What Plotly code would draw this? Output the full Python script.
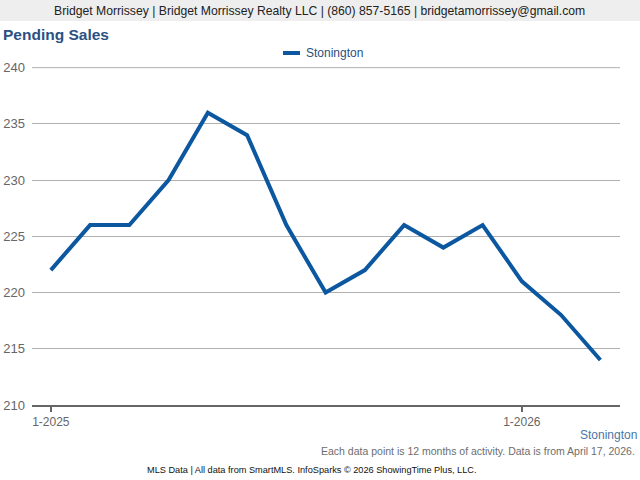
import plotly.graph_objects as go

months = ["1-2025", "2-2025", "3-2025", "4-2025", "5-2025", "6-2025", "7-2025",
          "8-2025", "9-2025", "10-2025", "11-2025", "12-2025", "1-2026", "2-2026", "3-2026"]
pending_sales = [222, 226, 226, 230, 236, 234, 226, 220, 222, 226, 224, 226, 221, 218, 214]
series_name = "Stonington"
tick_labels = ["1-2025", "1-2026"]
y_ticks = [210, 215, 220, 225, 230, 235, 240]

FONT = "Liberation Sans, Arial, sans-serif"
LINE_COLOR = "#0b57a0"

L, R, T, B = 32, 20, 67, 75
PW, PH = 640 - L - R, 480 - T - B


def px(x):
    return (x - L) / PW


def py(y):
    return 1 - (y - T) / PH


fig = go.Figure()
fig.add_trace(go.Scatter(
    x=months, y=pending_sales, mode="lines", name=series_name,
    line=dict(color=LINE_COLOR, width=4), showlegend=False,
))

fig.update_layout(
    width=640, height=480,
    margin=dict(l=L, r=R, t=T, b=B, autoexpand=False),
    paper_bgcolor="white", plot_bgcolor="white",
    font=dict(family=FONT, size=12, color="#666666"),
    showlegend=False,
    xaxis=dict(type="category", range=[-0.48, 14.5], tickvals=tick_labels, ticktext=tick_labels,
               showgrid=False, showline=True, linecolor="#666666", linewidth=2,
               ticks="outside", ticklen=5, tickcolor="#666666", tickwidth=2,
               tickfont=dict(size=12, color="#666666"), zeroline=False, automargin=False),
    yaxis=dict(range=[210, 240.06], tickvals=y_ticks, showgrid=True, gridcolor="#b0b0b0",
               gridwidth=1, zeroline=False, showline=False, ticks="",
               tickfont=dict(size=13, color="#666666"), ticklabelstandoff=6, automargin=False),
)

# top gridline (plotly hides gridlines at the plot edge)
fig.add_shape(type="line", xref="paper", yref="y", x0=0, x1=1, y0=y_ticks[-1], y1=y_ticks[-1],
              line=dict(color="#b0b0b0", width=1), layer="below")

# header bar
fig.add_shape(type="rect", xref="paper", yref="paper", x0=px(0), x1=px(640),
              y0=py(21), y1=py(0), fillcolor="#eeeeee", line_width=0, layer="below")
fig.add_annotation(text="Bridget Morrissey | Bridget Morrissey Realty LLC | (860) 857-5165 | bridgetamorrissey@gmail.com",
                   xref="paper", yref="paper", x=px(319), y=py(11),
                   xanchor="center", yanchor="middle", showarrow=False,
                   font=dict(size=12.2, color="#222222", family=FONT))
fig.add_annotation(text="<b>Pending Sales</b>", xref="paper", yref="paper",
                   x=px(1), y=py(35), xanchor="left", yanchor="middle",
                   showarrow=False, font=dict(size=15.5, color="#2b5082", family=FONT))

# legend (drawn manually so it does not move the plot area)
fig.add_shape(type="line", xref="paper", yref="paper", x0=px(283), x1=px(300),
              y0=py(53), y1=py(53), line=dict(color=LINE_COLOR, width=4))
fig.add_annotation(text=series_name, xref="paper", yref="paper",
                   x=px(304), y=py(53), xanchor="left", yanchor="middle", showarrow=False,
                   font=dict(size=12, color="#2d4f7c", family=FONT))

fig.add_annotation(text=series_name, xref="paper", yref="paper",
                   x=px(639), y=py(435), xanchor="right", yanchor="middle",
                   showarrow=False, font=dict(size=12, color="#4a77a8", family=FONT))
fig.add_annotation(text="Each data point is 12 months of activity. Data is from April 17, 2026.",
                   xref="paper", yref="paper", x=px(637), y=py(451),
                   xanchor="right", yanchor="middle", showarrow=False,
                   font=dict(size=10.5, color="#6e6e6e", family=FONT))
fig.add_annotation(text="MLS Data | All data from SmartMLS. InfoSparks © 2026 ShowingTime Plus, LLC.",
                   xref="paper", yref="paper", x=px(312), y=py(470),
                   xanchor="center", yanchor="middle", showarrow=False,
                   font=dict(size=9.2, color="#111111", family=FONT))

fig.write_html("out.html", config={"displayModeBar": False},
               post_script="document.body.style.margin='0';")
